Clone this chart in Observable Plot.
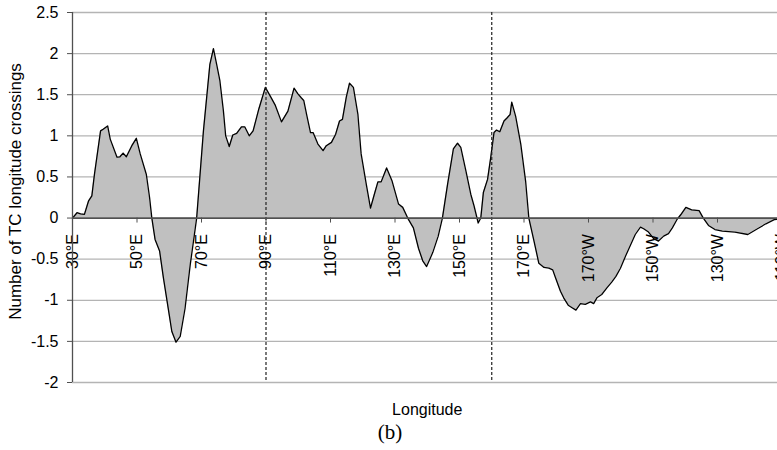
<!DOCTYPE html>
<html>
<head>
<meta charset="utf-8">
<script src="https://cdn.jsdelivr.net/npm/d3@7"></script>
<script src="https://cdn.jsdelivr.net/npm/@observablehq/plot@0.6"></script>
<style>
  html, body { margin: 0; padding: 0; background: #fff; overflow: hidden; }
  figure { margin: 0; width: 777px; }
  figcaption { font-family: "Liberation Serif", "DejaVu Serif", serif; font-size: 21px; line-height: 24px; text-align: center; color: #000; margin: 0; padding-left: 3px; }
</style>
</head>
<body>
<div id="chart"></div>
<script>
// Longitude in degrees east (190 = 170°W, 250 = 110°W)
const lon = [
  30,31.4,32.5,33.7,35,36,36.8,38.7,39.5,40.9,41.7,43.8,44.7,45.7,46.7,48.4,49.8,51,52.9,53.9,54.6,
  55.6,57,58.2,59.8,60.8,62.1,63.4,64.9,66.5,68.5,
  70.6,72.6,73.7,74.7,75.7,76.8,77.5,78.6,79.7,80.9,82.4,83.4,84.8,86,87.8,89.8,
  91.5,92.9,94.8,96.8,98.7,99.9,101,101.7,102.7,103.8,104.6,106.1,107.7,108.7,110.3,
  111.6,112.8,113.7,114.9,115.9,117.1,118.5,119.5,121.1,122.4,123.6,124.7,125.7,127.4,129.1,131.1,132.4,
  134.2,135.7,137.3,138.6,139.8,141.7,143.4,144.7,
  146.3,148.1,149.4,150.4,152,153.5,154.5,155.8,156.6,
  157.4,158.7,159.7,160.7,161.5,162.5,163.8,164.8,165.7,166.2,167.4,169,170.5,171.5,
  173.1,174.6,176.2,177.7,178.9,179.8,181.3,182.3,183.7,184.9,186.1,187.5,189,190.6,191.6,192.6,
  194.1,195.7,197.2,198.5,199.9,201.4,203,204.5,206.1,207.1,208.6,210.2,211.7,213.3,214.8,216,217.4,
  218.6,220.2,222,224.3,225.6,
  227.2,229.2,231.5,235.4,239.4,242.4,245,247.6,250
];
const crossings = [
  0,0.065,0.05,0.045,0.21,0.27,0.53,1.06,1.08,1.12,0.96,0.74,0.745,0.79,0.745,0.88,0.97,0.78,0.53,0.25,0,
  -0.26,-0.40,-0.73,-1.13,-1.38,-1.51,-1.44,-1.10,-0.57,0,
  1.06,1.87,2.06,1.87,1.67,1.30,1.0,0.87,1.01,1.03,1.11,1.11,1.0,1.06,1.33,1.59,
  1.47,1.37,1.17,1.30,1.58,1.51,1.46,1.43,1.24,1.04,1.04,0.90,0.82,0.88,0.92,
  1.02,1.18,1.20,1.47,1.64,1.59,1.26,0.78,0.41,0.12,0.29,0.44,0.44,0.61,0.45,0.17,0.13,
  -0.02,-0.12,-0.37,-0.52,-0.59,-0.42,-0.22,0,
  0.41,0.84,0.91,0.86,0.57,0.29,0.15,-0.06,0,
  0.31,0.47,0.74,1.04,1.07,1.05,1.18,1.22,1.26,1.41,1.24,0.90,0.45,0,
  -0.28,-0.55,-0.60,-0.61,-0.63,-0.73,-0.89,-0.97,-1.06,-1.09,-1.12,-1.04,-1.05,-1.02,-1.04,-0.97,
  -0.93,-0.85,-0.78,-0.71,-0.61,-0.47,-0.33,-0.20,-0.11,-0.13,-0.17,-0.25,-0.28,-0.22,-0.19,-0.12,-0.02,
  0.04,0.13,0.10,0.09,0,
  -0.09,-0.14,-0.16,-0.17,-0.20,-0.13,-0.07,-0.02,-0.01
];
const xTicks = [30,50,70,90,110,130,150,170,190,210,230,250];
const xTickLabels = ["30°E","50°E","70°E","90°E","110°E","130°E","150°E","170°E","170°W","150°W","130°W","110°W"];
const yTicks = [-2,-1.5,-1,-0.5,0,0.5,1,1.5,2,2.5];
const yTickLabels = ["-2","-1.5","-1","-0.5","0","0.5","1","1.5","2","2.5"];
const dashedLons = [90,160];
const yLabel = "Number of TC longitude crossings";
const xLabel = "Longitude";
const captionText = "(b)";

const data = lon.map((l, i) => ({lon: l, v: crossings[i]}));
const xt = xTicks.map((x, i) => ({x, label: xTickLabels[i]}));
const font = "Liberation Sans, Arial, sans-serif";

const chart = Plot.plot({
  width: 777,
  height: 420,
  marginLeft: 72,
  marginRight: -4.5,
  marginTop: 12,
  marginBottom: 38,
  style: {fontFamily: font, fontSize: "16px", color: "#000", background: "#fff", overflow: "visible"},
  x: {domain: [30, 250], axis: null},
  y: {domain: [-2, 2.5], axis: null},
  caption: captionText,
  marks: [
    Plot.ruleY(yTicks.filter(d => d !== 0), {stroke: "#b4b4b4", strokeWidth: 1.3}),
    Plot.areaY(data, {x: "lon", y: "v", fill: "#c0c0c0"}),
    Plot.lineY(data, {x: "lon", y: "v", stroke: "#000", strokeWidth: 1.3}),
    Plot.ruleX(dashedLons, {stroke: "#222", strokeWidth: 1.2, strokeDasharray: "3,2"}),
    Plot.ruleY([0], {stroke: "#505050", strokeWidth: 1.8}),
    Plot.ruleX(xt, {x: "x", y1: 0, y2: 0, insetBottom: -5, stroke: "#505050", strokeWidth: 1}),
    Plot.text(xt, {x: "x", y: 0, text: "label", rotate: -90, textAnchor: "end", lineAnchor: "middle", dy: 16, fontSize: 16, fill: "#000"}),
    Plot.ruleX([30], {stroke: "#505050", strokeWidth: 1.3}),
    Plot.axisY(yTicks, {anchor: "left", tickSize: 5, tickPadding: 9, tickFormat: (d) => yTickLabels[yTicks.indexOf(d)], fontSize: 16, stroke: "#505050", color: "#000", label: null}),
    Plot.text([yLabel], {frameAnchor: "left", dx: -57, dy: -6, rotate: -90, textAnchor: "middle", lineAnchor: "middle", fontSize: 17, fill: "#000"}),
    Plot.text([xLabel], {frameAnchor: "bottom", dy: 27, textAnchor: "middle", lineAnchor: "middle", fontSize: 16, fill: "#000"})
  ]
});
document.getElementById("chart").appendChild(chart);
</script>
</body>
</html>
